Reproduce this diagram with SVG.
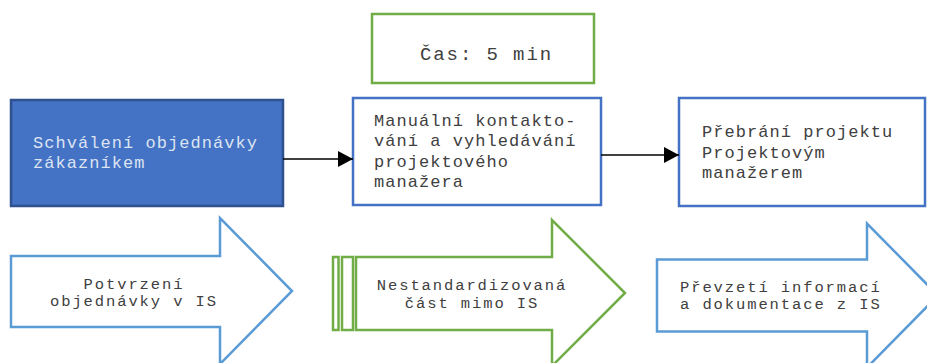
<svg xmlns="http://www.w3.org/2000/svg" width="927" height="363" viewBox="0 0 927 363">
<defs>
<style>
.t{font-family:"Liberation Mono","Courier New",monospace;font-size:17px;fill:#404040;letter-spacing:1.05px}
.s{font-size:15.5px;letter-spacing:1.9px}
.tw{fill:#DCE4F2}
.box{fill:#fff;stroke:#4472C4;stroke-width:2.5}
.gbox{fill:#fff;stroke:#70AD47;stroke-width:2.5}
.barrow{fill:#fff;stroke:#5B9BD5;stroke-width:2.5}
.garrow{fill:#fff;stroke:#70AD47;stroke-width:2.5}
.conn{stroke:#000;stroke-width:1.5;fill:none}
</style>
<marker id="ah" markerWidth="16" markerHeight="16" viewBox="0 0 16 16" refX="15" refY="8" orient="auto" markerUnits="userSpaceOnUse">
<path d="M0,0 L15,8 L0,16 Z" fill="#000"/>
</marker>
</defs>
<g id="n1">
<rect x="11" y="100" width="272" height="106" fill="#4472C4" stroke="#2F528F" stroke-width="2.5"/>
<text class="t tw" x="33" y="148">Schválení objednávky</text>
<text class="t tw" x="33" y="168">zákazníkem</text>
</g>
<g id="time">
<rect class="gbox" x="372" y="14" width="222" height="69"/>
<text class="t" x="420" y="60" style="font-size:19px;letter-spacing:1.9px">Čas: 5 min</text>
</g>
<g id="n2">
<rect class="box" x="353" y="98" width="248" height="107"/>
<text class="t" x="374" y="125.5">Manuální kontakto-</text>
<text class="t" x="374" y="146">vání a vyhledávání</text>
<text class="t" x="374" y="166.5">projektového</text>
<text class="t" x="374" y="187">manažera</text>
</g>
<g id="n3">
<rect class="box" x="679" y="98" width="246" height="108"/>
<text class="t" x="702" y="137">Přebrání projektu</text>
<text class="t" x="702" y="157.5">Projektovým</text>
<text class="t" x="702" y="178">manažerem</text>
</g>
<g id="connectors">
<line class="conn" x1="283" y1="159" x2="353" y2="159" marker-end="url(#ah)"/>
<line class="conn" x1="601" y1="155" x2="679" y2="155" marker-end="url(#ah)"/>
</g>
<g id="a1">
<path class="barrow" d="M11,256 L220,256 L220,218 L292,291 L220,364 L220,327 L11,327 Z"/>
<text class="t s" x="134" y="288.5" text-anchor="middle">Potvrzení</text>
<text class="t s" x="134" y="306" text-anchor="middle">objednávky v IS</text>
</g>
<g id="a2">
<rect class="garrow" x="333" y="257" width="5.5" height="73"/>
<rect class="garrow" x="342" y="257" width="11" height="73"/>
<path class="garrow" d="M356,257 L552,257 L552,220 L625,293 L552,366 L552,330 L356,330 Z"/>
<text class="t s" x="472" y="290" text-anchor="middle">Nestandardizovaná</text>
<text class="t s" x="472" y="307.5" text-anchor="middle">část mimo IS</text>
</g>
<g id="a3">
<path class="barrow" d="M657,259.5 L867,259.5 L867,223.5 L938,295.5 L867,367.5 L867,331.5 L657,331.5 Z"/>
<text class="t s" x="680" y="291.5">Převzetí informací</text>
<text class="t s" x="680" y="309">a dokumentace z IS</text>
</g>
</svg>
